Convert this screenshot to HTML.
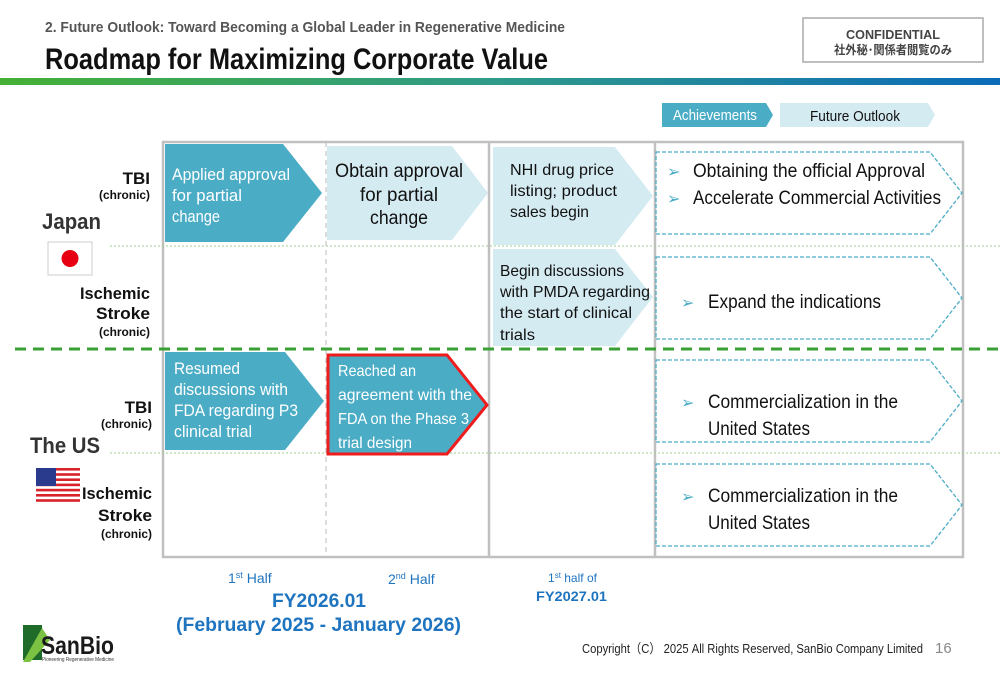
<!DOCTYPE html>
<html><head><meta charset="utf-8">
<style>
html,body{margin:0;padding:0;background:#fff;}
svg{display:block;}
text{font-family:"Liberation Sans","Noto Sans CJK JP",sans-serif;}
</style></head>
<body>
<svg width="1000" height="685" viewBox="0 0 1000 685" xmlns="http://www.w3.org/2000/svg">
<defs>
<linearGradient id="hb" x1="0" x2="1" y1="0" y2="0">
<stop offset="0" stop-color="#45b035"/><stop offset="0.5" stop-color="#2f9a8a"/><stop offset="1" stop-color="#0b6bb8"/>
</linearGradient>
</defs>
<text x="45" y="32" font-size="15" fill="#555" font-weight="bold" textLength="520" lengthAdjust="spacingAndGlyphs">2. Future Outlook: Toward Becoming a Global Leader in Regenerative Medicine</text>
<text x="45" y="69" font-size="30" font-weight="bold" fill="#111" textLength="503" lengthAdjust="spacingAndGlyphs">Roadmap for Maximizing Corporate Value</text>
<g>
<rect x="803" y="18" width="180" height="44" fill="#fff" stroke="#aaa" stroke-width="1.5"/>
<text x="846" y="39" font-size="13" font-weight="bold" fill="#444" textLength="94" lengthAdjust="spacingAndGlyphs">CONFIDENTIAL</text>
<text x="834" y="54" font-size="12" font-weight="bold" fill="#444" textLength="118" lengthAdjust="spacingAndGlyphs">社外秘･関係者閲覧のみ</text>
</g>
<rect x="0" y="78" width="1000" height="7" fill="url(#hb)"/>

<g>
<polygon points="662,103 766,103 773,115 766,127 662,127" fill="#4bacc6"/>
<text x="673" y="120" font-size="15" fill="#fff" textLength="84" lengthAdjust="spacingAndGlyphs">Achievements</text>
<polygon points="780,103 928,103 935,115 928,127 780,127" fill="#d5ebf2"/>
<text x="810" y="121" font-size="15" fill="#111" textLength="90" lengthAdjust="spacingAndGlyphs">Future Outlook</text>
</g>

<g>
<rect x="163" y="142" width="800" height="415" fill="none" stroke="#c0c0c0" stroke-width="2.5"/>
<line x1="326" y1="142" x2="326" y2="557" stroke="#bbb" stroke-width="1" stroke-dasharray="5,4"/>
<line x1="489" y1="142" x2="489" y2="557" stroke="#c0c0c0" stroke-width="2.5"/>
<line x1="655" y1="142" x2="655" y2="557" stroke="#c0c0c0" stroke-width="2.5"/>
<line x1="110" y1="246" x2="1000" y2="246" stroke="#9ccf90" stroke-width="1" stroke-dasharray="2,2"/>
<line x1="110" y1="453" x2="1000" y2="453" stroke="#9ccf90" stroke-width="1" stroke-dasharray="2,2"/>
<line x1="15" y1="349" x2="1000" y2="349" stroke="#3aa035" stroke-width="3" stroke-dasharray="11,7"/>
</g>

<g font-weight="bold" fill="#111">
<text x="150" y="184" font-size="17" text-anchor="end">TBI</text>
<text x="150" y="199" font-size="12" text-anchor="end" textLength="51" lengthAdjust="spacingAndGlyphs">(chronic)</text>
<text x="42" y="229" font-size="22" fill="#333" textLength="59" lengthAdjust="spacingAndGlyphs">Japan</text>
<g>
<rect x="48" y="242" width="44" height="33" fill="#fff" stroke="#ccc" stroke-width="1"/>
<circle cx="70" cy="258.5" r="8.5" fill="#e60012"/>
</g>
<text x="150" y="299" font-size="17" text-anchor="end" textLength="70" lengthAdjust="spacingAndGlyphs">Ischemic</text>
<text x="150" y="319" font-size="17" text-anchor="end" textLength="54" lengthAdjust="spacingAndGlyphs">Stroke</text>
<text x="150" y="336" font-size="12" text-anchor="end" textLength="51" lengthAdjust="spacingAndGlyphs">(chronic)</text>
<text x="152" y="413" font-size="17" text-anchor="end">TBI</text>
<text x="152" y="428" font-size="12" text-anchor="end" textLength="51" lengthAdjust="spacingAndGlyphs">(chronic)</text>
<text x="30" y="453" font-size="22" fill="#333" textLength="70" lengthAdjust="spacingAndGlyphs">The US</text>
<g>
<rect x="36" y="468" width="44" height="34" fill="#fff"/>
<rect x="36" y="468" width="44" height="2.6" fill="#d8232a"/>
<rect x="36" y="473.2" width="44" height="2.6" fill="#d8232a"/>
<rect x="36" y="478.4" width="44" height="2.6" fill="#d8232a"/>
<rect x="36" y="483.6" width="44" height="2.6" fill="#d8232a"/>
<rect x="36" y="488.8" width="44" height="2.6" fill="#d8232a"/>
<rect x="36" y="494" width="44" height="2.6" fill="#d8232a"/>
<rect x="36" y="499.2" width="44" height="2.6" fill="#d8232a"/>
<rect x="36" y="468" width="20" height="18" fill="#2a3a8c"/>
</g>
<text x="152" y="499" font-size="17" text-anchor="end" textLength="70" lengthAdjust="spacingAndGlyphs">Ischemic</text>
<text x="152" y="521" font-size="17" text-anchor="end" textLength="54" lengthAdjust="spacingAndGlyphs">Stroke</text>
<text x="152" y="538" font-size="12" text-anchor="end" textLength="51" lengthAdjust="spacingAndGlyphs">(chronic)</text>
</g>

<g font-size="17" fill="#fff">
<polygon points="165,144 283,144 322,193 283,242 165,242" fill="#4bacc6"/>
<text x="172" y="180" textLength="118" lengthAdjust="spacingAndGlyphs">Applied approval</text>
<text x="172" y="201" textLength="70" lengthAdjust="spacingAndGlyphs">for partial</text>
<text x="172" y="222" textLength="48" lengthAdjust="spacingAndGlyphs">change</text>
</g>
<g font-size="19" fill="#111">
<polygon points="327,146 452,146 488,193 452,240 327,240" fill="#d5ebf2"/>
<text x="335" y="177" textLength="128" lengthAdjust="spacingAndGlyphs">Obtain approval</text>
<text x="360" y="201" textLength="78" lengthAdjust="spacingAndGlyphs">for partial</text>
<text x="370" y="224" textLength="58" lengthAdjust="spacingAndGlyphs">change</text>
</g>
<g font-size="16" fill="#111">
<polygon points="493,147 615,147 653,196 615,245 493,245" fill="#d5ebf2"/>
<text x="510" y="175" textLength="104" lengthAdjust="spacingAndGlyphs">NHI drug price</text>
<text x="510" y="196" textLength="107" lengthAdjust="spacingAndGlyphs">listing; product</text>
<text x="510" y="217" textLength="79" lengthAdjust="spacingAndGlyphs">sales begin</text>
</g>
<g font-size="16" fill="#111">
<polygon points="493,249 615,249 653,297 615,346 493,346" fill="#d5ebf2"/>
<text x="500" y="276" textLength="124" lengthAdjust="spacingAndGlyphs">Begin discussions</text>
<text x="500" y="297" textLength="150" lengthAdjust="spacingAndGlyphs">with PMDA regarding</text>
<text x="500" y="318" textLength="132" lengthAdjust="spacingAndGlyphs">the start of clinical</text>
<text x="500" y="340" textLength="35" lengthAdjust="spacingAndGlyphs">trials</text>
</g>
<g font-size="17" fill="#fff">
<polygon points="165,352 285,352 324,401 285,450 165,450" fill="#4bacc6"/>
<text x="174" y="374" textLength="66" lengthAdjust="spacingAndGlyphs">Resumed</text>
<text x="174" y="395" textLength="114" lengthAdjust="spacingAndGlyphs">discussions with</text>
<text x="174" y="416" textLength="124" lengthAdjust="spacingAndGlyphs">FDA regarding P3</text>
<text x="174" y="437" textLength="78" lengthAdjust="spacingAndGlyphs">clinical trial</text>
</g>
<g font-size="16" fill="#fff">
<polygon points="328,355 447,355 487,405 447,454 328,454" fill="#4bacc6" stroke="#ee1c1c" stroke-width="3"/>
<text x="338" y="376" textLength="78" lengthAdjust="spacingAndGlyphs">Reached an</text>
<text x="338" y="400" textLength="134" lengthAdjust="spacingAndGlyphs">agreement with the</text>
<text x="338" y="424" textLength="131" lengthAdjust="spacingAndGlyphs">FDA on the Phase 3</text>
<text x="338" y="448" textLength="74" lengthAdjust="spacingAndGlyphs">trial design</text>
</g>

<g fill="none" stroke="#4bacc6" stroke-width="1.3" stroke-dasharray="4,2">
<polygon points="656,152 930,152 962,193 930,234 656,234"/>
<polygon points="656,257 930,257 962,298 930,339 656,339"/>
<polygon points="656,360 930,360 962,401 930,442 656,442"/>
<polygon points="656,464 930,464 962,505 930,546 656,546"/>
</g>
<g font-size="19" fill="#111">
<text x="667" y="177" fill="#4bacc6" font-size="16">➢</text><text x="693" y="177" textLength="232" lengthAdjust="spacingAndGlyphs">Obtaining the official Approval</text>
<text x="667" y="204" fill="#4bacc6" font-size="16">➢</text><text x="693" y="204" textLength="248" lengthAdjust="spacingAndGlyphs">Accelerate Commercial Activities</text>
<text x="681" y="308" fill="#4bacc6" font-size="16">➢</text><text x="708" y="308" textLength="173" lengthAdjust="spacingAndGlyphs">Expand the indications</text>
<text x="681" y="408" fill="#4bacc6" font-size="16">➢</text><text x="708" y="408" textLength="190" lengthAdjust="spacingAndGlyphs">Commercialization in the</text>
<text x="708" y="435" textLength="102" lengthAdjust="spacingAndGlyphs">United States</text>
<text x="681" y="502" fill="#4bacc6" font-size="16">➢</text><text x="708" y="502" textLength="190" lengthAdjust="spacingAndGlyphs">Commercialization in the</text>
<text x="708" y="529" textLength="102" lengthAdjust="spacingAndGlyphs">United States</text>
</g>

<g fill="#1f74c0">
<text x="228" y="583" font-size="14">1<tspan font-size="9" dy="-5">st</tspan><tspan dy="5"> Half</tspan></text>
<text x="388" y="584" font-size="14">2<tspan font-size="9" dy="-5">nd</tspan><tspan dy="5"> Half</tspan></text>
<text x="548" y="582" font-size="12">1<tspan font-size="8" dy="-4">st</tspan><tspan dy="4"> half of</tspan></text>
<text x="272" y="607" font-size="19" font-weight="bold" textLength="94" lengthAdjust="spacingAndGlyphs">FY2026.01</text>
<text x="176" y="631" font-size="19" font-weight="bold" textLength="285" lengthAdjust="spacingAndGlyphs">(February 2025 - January 2026)</text>
<text x="536" y="601" font-size="14" font-weight="bold" textLength="71" lengthAdjust="spacingAndGlyphs">FY2027.01</text>
</g>

<g>
<polygon points="23,625 42,625 42,660 23,660" fill="#1f6b2a"/>
<polygon points="42,628 50,640 30,662 23,662" fill="#7cc242"/>
<text x="41" y="654" font-size="25" font-weight="bold" fill="#1a1a1a" textLength="73" lengthAdjust="spacingAndGlyphs">SanBio</text>
<text x="42" y="661" font-size="5" fill="#333" textLength="72" lengthAdjust="spacingAndGlyphs">Pioneering Regenerative Medicine</text>
</g>
<text x="582" y="653" font-size="13" fill="#222" textLength="341" lengthAdjust="spacingAndGlyphs">Copyright（C） 2025 All Rights Reserved, SanBio Company Limited</text>
<text x="935" y="653" font-size="15" fill="#888">16</text>
</svg>
</body></html>
